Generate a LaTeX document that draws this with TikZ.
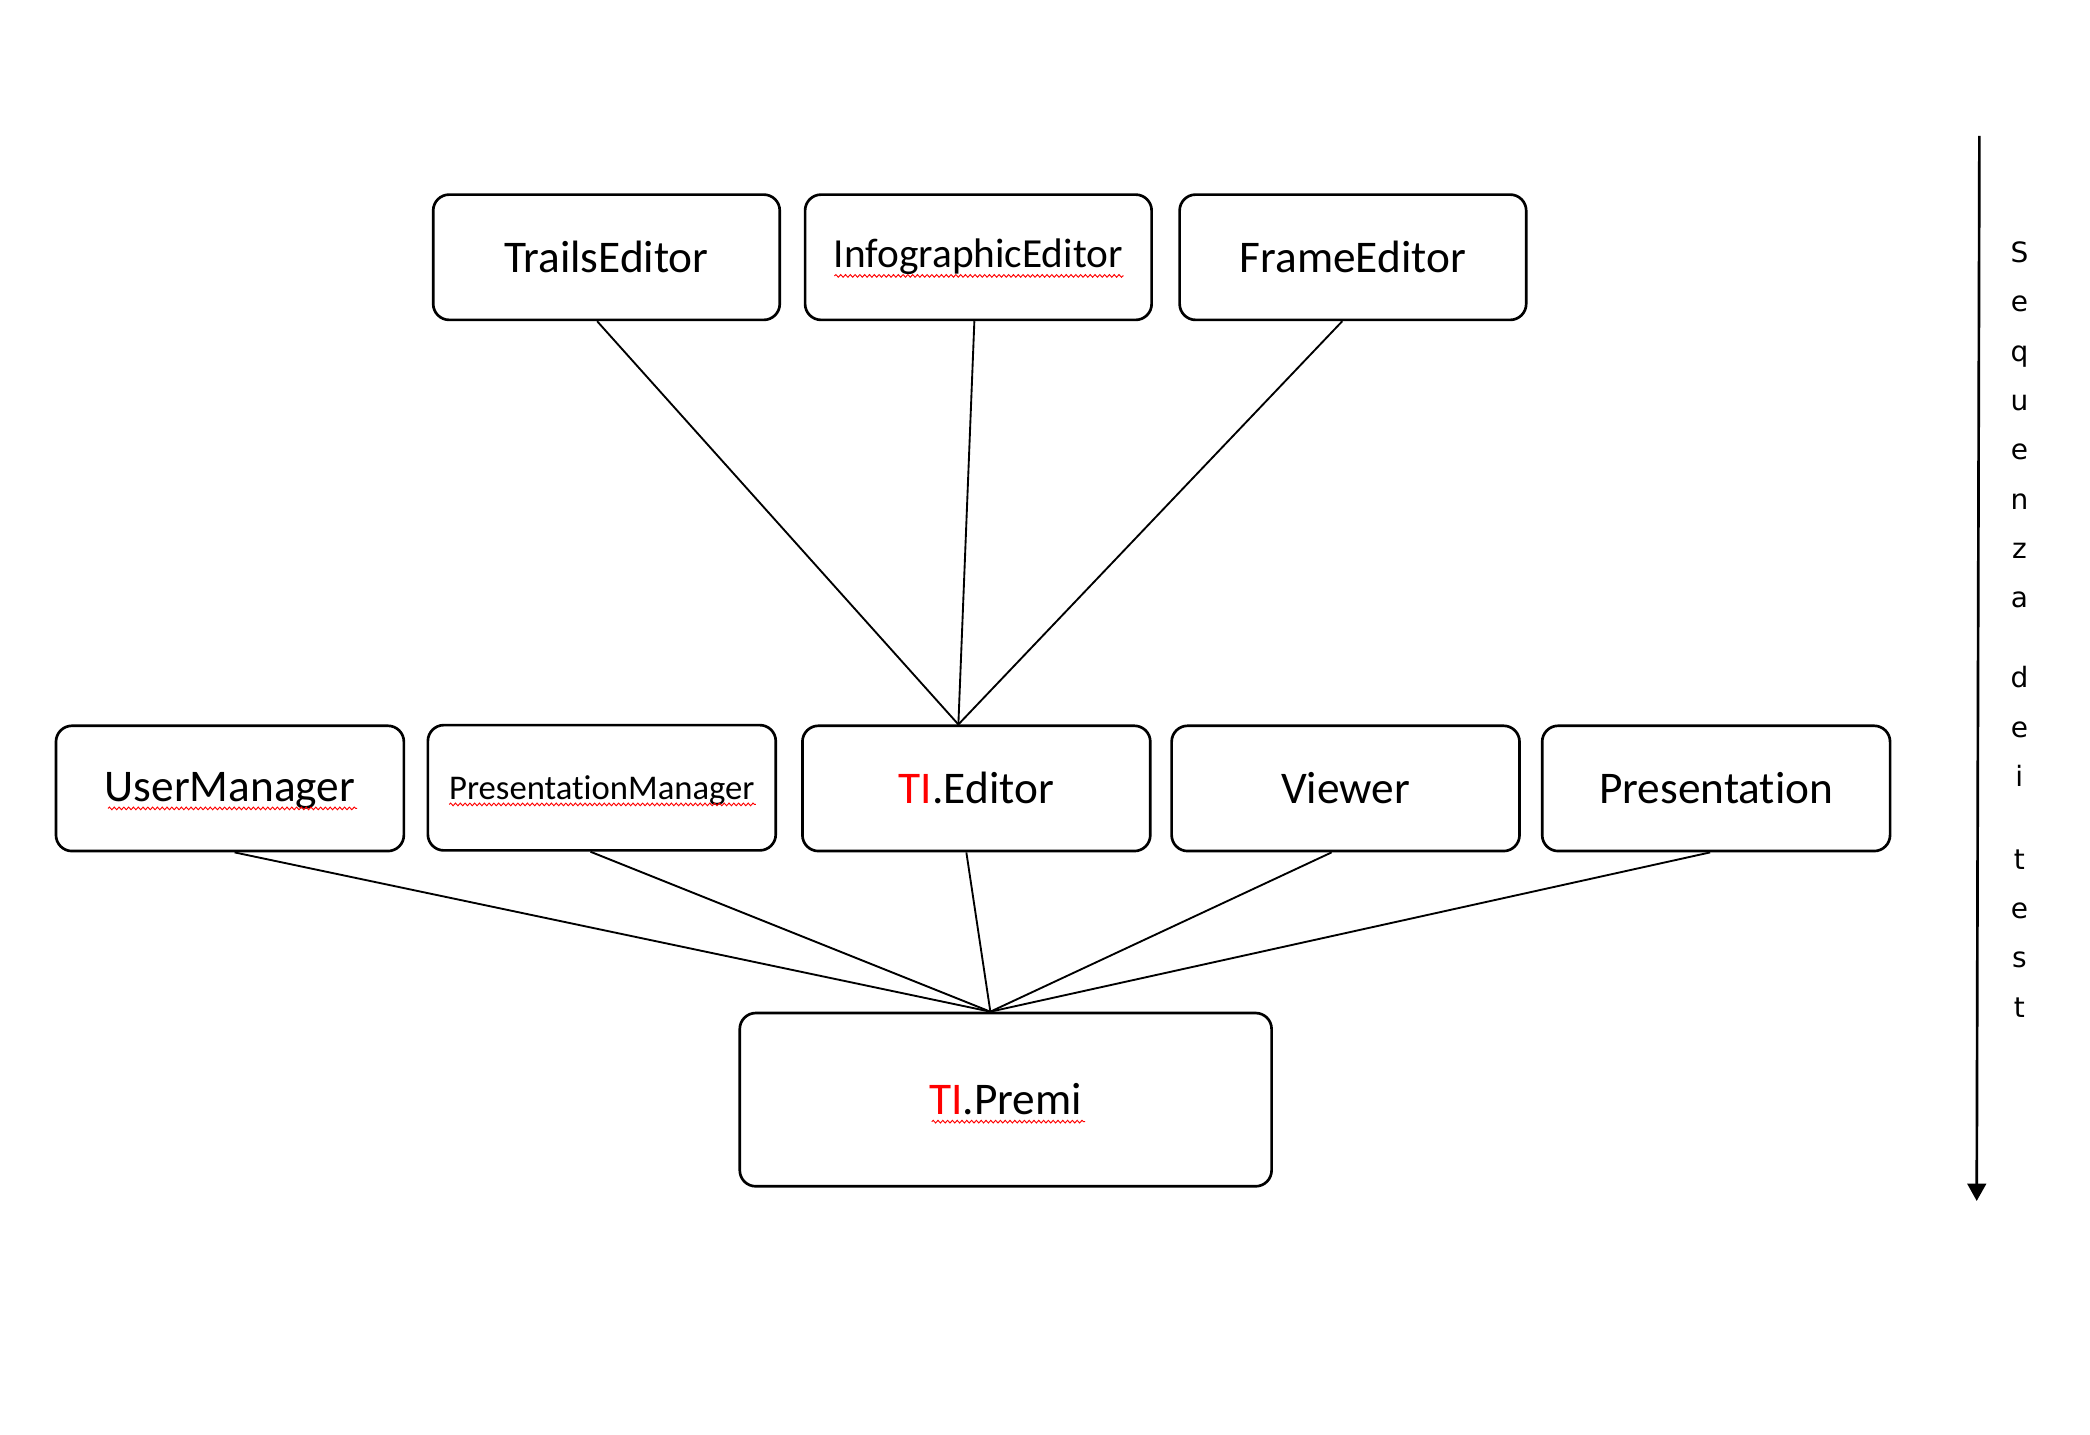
\documentclass[tikz,border=0pt]{standalone}
\usepackage{fontspec}
\setmainfont{Carlito}[Ligatures=NoCommon]
\newfontfamily\vertfont{DejaVu Sans}
\usetikzlibrary{arrows.meta,decorations.pathmorphing}
\definecolor{tired}{RGB}{255,0,0}
\tikzset{
  box/.style={draw, line width=1pt, rounded corners=6pt, minimum width=130.5pt, minimum height=47pt, inner sep=0pt, text height=11.5pt, text depth=0pt, font=\fontsize{17}{20}\selectfont},
  link/.style={line width=0.7pt},
  wavy/.style={draw=tired, line width=0.35pt, decorate, decoration={snake, amplitude=0.5pt, segment length=1.8pt}}
}
\begin{document}
\begin{tikzpicture}[x=0.5pt,y=-0.5pt]
\useasboundingbox (0,0) rectangle (1568,1076);
% top row
\node[box, minimum width=130pt] (trails) at (455,193) {TrailsEditor};
\node[box, minimum width=130pt, text height=8pt, font=\fontsize{15.5}{18}\selectfont] (info) at (734,193) {InfographicEditor};
\node[box, minimum width=130pt] (frame) at (1015,193) {FrameEditor};
% middle row
\node[box, text height=9.5pt] (um) at (172.5,591.5) {UserManager};
\node[box, text height=8.6pt, font=\fontsize{13}{16}\selectfont] (pm) at (451.5,591) {PresentationManager};
\node[box, text height=11pt] (ted) at (732.5,591.5) {\textcolor{tired}{TI}.Editor};
\node[box] (viewer) at (1009.5,591.5) {Viewer};
\node[box] (pres) at (1287.5,591.5) {Presentation};
% bottom
\node[box, minimum width=199.5pt, minimum height=65pt] (premi) at (754.5,825) {\textcolor{tired}{TI}.Premi};
% spell-check underlines
\draw[wavy] (626,207) -- (843,207);
\draw[wavy] (81,606.5) -- (268,606.5);
\draw[wavy] (337,603.5) -- (567,603.5);
\draw[wavy] (699,841.5) -- (814,841.5);
% connectors top
\draw[link] ([xshift=-3.5pt]trails.south) -- ([xshift=-6.75pt]ted.north);
\draw[link] ([xshift=-1.5pt]info.south) -- ([xshift=-6.75pt]ted.north);
\draw[link] ([xshift=-4pt]frame.south) -- ([xshift=-6.75pt]ted.north);
% connectors bottom
\draw[link] ([xshift=1.75pt]um.south) -- ([xshift=-5.75pt]premi.north);
\draw[link] ([xshift=-4.25pt]pm.south) -- ([xshift=-5.75pt]premi.north);
\draw[link] ([xshift=-3.75pt]ted.south) -- ([xshift=-5.75pt]premi.north);
\draw[link] ([xshift=-5.25pt]viewer.south) -- ([xshift=-5.75pt]premi.north);
\draw[link] ([xshift=-2.25pt]pres.south) -- ([xshift=-5.75pt]premi.north);
% sequence arrow
\coordinate (atop) at (1485,102);
\coordinate (abot) at (1483,901);
\draw[line width=1pt, -{Triangle[width=7pt,length=6.5pt]}] (atop) -- (abot);
\node[anchor=north, align=center, inner sep=0pt, font=\vertfont\fontsize{10.5}{18.5}\selectfont] (seq) at (1515,181)
 {S\\e\\q\\u\\e\\n\\z\\a\\[11.5pt]d\\e\\i\\[12.5pt]t\\e\\s\\t};
\end{tikzpicture}
\end{document}
